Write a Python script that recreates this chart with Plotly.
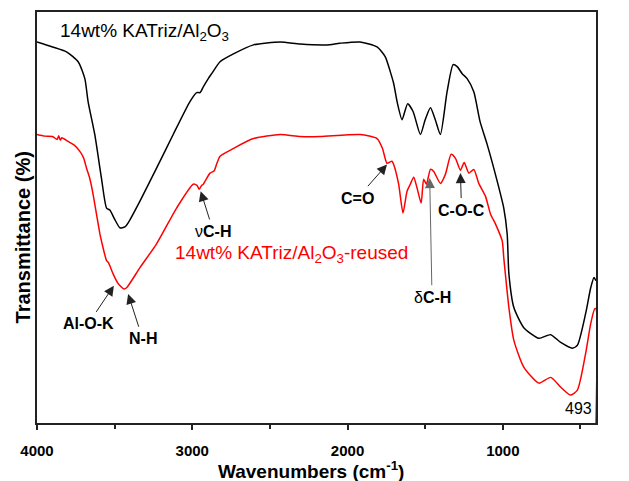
import plotly.graph_objects as go

# FTIR spectrum of the fresh catalyst (wavenumber in cm-1, transmittance in %)
fresh_wn = [4000, 3900, 3810, 3735, 3692, 3671, 3628, 3585, 3552, 3531, 3500, 3466,
            3434, 3413, 3337, 3230, 3123, 3015, 2972, 2950, 2929, 2897, 2875, 2821,
            2735, 2606, 2434, 2305, 2133, 2050, 1919, 1810, 1757, 1725, 1703, 1680,
            1649, 1613, 1578, 1531, 1500, 1466, 1435, 1402, 1359, 1320, 1294, 1262,
            1230, 1187, 1147, 1101, 1036, 994, 972, 961, 929, 865, 768, 692, 627,
            552, 520, 467, 434, 413, 400]
fresh_t = [92.7, 91.5, 90.3, 87.9, 83.8, 78.2, 70.2, 59.6, 52.3, 51.8, 49.6, 47.5,
           47.7, 48.7, 54.0, 62.0, 70.2, 78.2, 80.4, 80.4, 81.8, 83.8, 85.0, 87.9,
           89.8, 92.0, 92.7, 92.2, 92.0, 92.4, 92.7, 91.5, 89.1, 85.5, 82.6, 78.0,
           73.8, 77.7, 75.8, 70.2, 73.8, 76.7, 73.8, 70.2, 80.6, 87.2, 86.7, 85.0,
           83.8, 80.6, 73.4, 67.8, 58.8, 52.3, 46.0, 36.3, 28.1, 23.2, 20.6, 21.5,
           19.6, 18.2, 18.9, 26.6, 32.9, 35.4, 34.6]

# FTIR spectrum of the reused catalyst
reused_wn = [4000, 3950, 3900, 3870, 3860, 3850, 3840, 3800, 3760, 3724, 3700, 3681,
             3660, 3639, 3595, 3585, 3552, 3540, 3510, 3477, 3440, 3423, 3337, 3230,
             3101, 2994, 2970, 2955, 2940, 2929, 2886, 2860, 2843, 2821, 2735, 2606,
             2434, 2305, 2176, 1919, 1810, 1775, 1746, 1714, 1703, 1671, 1643, 1617,
             1596, 1574, 1552, 1526, 1510, 1492, 1466, 1445, 1402, 1370, 1333, 1305,
             1273, 1249, 1219, 1187, 1155, 1112, 1079, 1047, 1004, 994, 961, 929,
             865, 768, 692, 627, 565, 520, 467, 434, 408, 400, 400]
reused_t = [70.2, 69.8, 69.7, 69.0, 69.9, 68.8, 69.4, 68.5, 67.6, 66.1, 64.5, 62.0,
            59.5, 55.7, 46.0, 44.3, 39.5, 39.0, 36.3, 33.9, 32.6, 32.9, 37.8, 43.6,
            52.3, 58.1, 57.8, 56.9, 57.8, 58.1, 60.8, 61.3, 63.0, 64.9, 66.8, 69.2,
            70.2, 69.7, 69.7, 70.2, 69.2, 66.8, 63.2, 63.7, 62.9, 58.1, 51.1, 56.4,
            58.1, 59.8, 57.1, 53.5, 59.3, 58.1, 61.7, 61.2, 58.3, 60.5, 65.4, 64.4,
            61.5, 63.4, 60.8, 61.7, 58.3, 55.2, 50.8, 48.4, 44.3, 40.2, 28.1, 20.1,
            13.6, 9.7, 11.1, 8.7, 6.8, 8.0, 16.9, 24.2, 27.8, 27.8, 0.0]

# Band assignments: (label, arrow tip wn, tip T, label wn, label T)
bands = [
    ("<b>Al-O-K</b>", 3505, 33.4, 3671, 24.1),
    ("<b>N-H</b>", 3413, 31.4, 3320, 20.5),
    ("\u03bd<b>C-H</b>", 2946, 56.4, 2864, 46.6),
    ("<b>C=O</b>", 1746, 62.9, 1937, 54.7),
    ("\u03b4<b>C-H</b>", 1471, 59.6, 1456, 30.6),
    ("<b>C-O-C</b>", 1273, 60.8, 1266, 51.8),
]

FONT = "Arial, Liberation Sans, sans-serif"

fig = go.Figure()
fig.add_trace(go.Scatter(x=fresh_wn, y=fresh_t, mode="lines",
                         line=dict(color="black", width=1.5, shape="spline", smoothing=0.6),
                         showlegend=False))
fig.add_trace(go.Scatter(x=reused_wn, y=reused_t, mode="lines",
                         line=dict(color="#ff0000", width=1.5, shape="spline", smoothing=0.6),
                         showlegend=False))

annotations = []
for label, xt, yt, xl, yl in bands:
    arrow_color = "#666666" if label.startswith("\u03b4") else "#222222"
    annotations.append(dict(x=xt, y=yt, ax=xl, ay=yl, xref="x", yref="y",
                            axref="x", ayref="y", text=label, showarrow=True,
                            arrowhead=2, arrowsize=2, arrowwidth=1,
                            arrowcolor=arrow_color, borderpad=3,
                            font=dict(family=FONT, size=16, color="black")))

annotations += [
    dict(x=3866, y=95.1, xref="x", yref="y", text="14wt% KATriz/Al<sub>2</sub>O<sub>3</sub>",
         showarrow=False, xanchor="left", yanchor="middle",
         font=dict(family=FONT, size=19, color="black")),
    dict(x=3125, y=41.2, xref="x", yref="y",
         text="14wt% KATriz/Al<sub>2</sub>O<sub>3</sub>-reused",
         showarrow=False, xanchor="left", yanchor="middle",
         font=dict(family=FONT, size=19, color="#ff0000")),
    dict(x=510, y=3.6, xref="x", yref="y", text="493", showarrow=False,
         xanchor="center", yanchor="middle",
         font=dict(family=FONT, size=16, color="black")),
    dict(x=0.49, y=-0.1138, xref="paper", yref="paper",
         text="<b>Wavenumbers (cm<sup>-1</sup>)</b>", showarrow=False,
         xanchor="center", yanchor="middle",
         font=dict(family=FONT, size=19, color="black")),
    dict(x=-0.025, y=0.4516, xref="paper", yref="paper",
         text="<b>Transmittance (%)</b>", showarrow=False, textangle=-90,
         xanchor="center", yanchor="middle",
         font=dict(family=FONT, size=20, color="black")),
]

tick_vals = [4000, 3000, 2000, 1000]
fig.update_layout(
    width=629, height=481,
    margin=dict(l=37, r=33, t=10, b=58),
    paper_bgcolor="white", plot_bgcolor="white",
    annotations=annotations,
    xaxis=dict(range=[4000, 400], tickvals=tick_vals,
               ticktext=[f"<b>{v}</b>" for v in tick_vals],
               ticks="outside", ticklen=5, tickwidth=1.5, tickcolor="#222",
               ticklabelstandoff=8,
               minor=dict(tickvals=[3500, 2500, 1500, 500], ticks="outside",
                          ticklen=4, tickwidth=1.5, tickcolor="#222"),
               showline=True, linecolor="#222", linewidth=1.5, mirror=True,
               showgrid=False, zeroline=False,
               tickfont=dict(family=FONT, size=15, color="black")),
    yaxis=dict(range=[0, 100], showticklabels=False, ticks="",
               showline=True, linecolor="#222", linewidth=1.5, mirror=True,
               showgrid=False, zeroline=False),
)

fig.write_html("out.html")
